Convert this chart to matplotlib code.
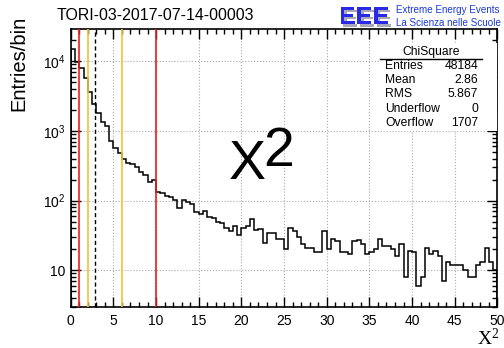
import numpy as np
import matplotlib.pyplot as plt
import matplotlib.patheffects as pe
from matplotlib.ticker import FixedLocator, LogLocator, FuncFormatter, NullFormatter
from matplotlib.patches import Rectangle

plt.rcParams['font.family'] = ['Liberation Sans', 'DejaVu Sans']

# chi-square histogram, 100 bins of width 0.5 from 0 to 50
edges = np.linspace(0, 50, 101)
counts = [
    15000, 9900, 8100, 5700, 3670, 2420, 1800, 1320, 1160, 720,
    560, 474, 389, 348, 333, 299, 259, 232, 186, 197,
    134, 127, 116, 111, 102, 77, 102, 94, 88, 69,
    65, 71, 59, 56, 50, 47, 41, 37, 43, 32,
    40, 43, 54, 38, 39, 25, 34, 34, 28, 28,
    20, 41, 37, 30, 24, 21, 21, 18, 18, 36,
    20, 28, 26, 18, 18, 17, 26, 27, 24, 17,
    18, 20, 28, 22, 22, 20, 16, 24, 8, 19,
    18, 6, 8, 21, 17, 19, 16, 7, 13, 12,
    12, 12, 10, 8, 8, 12, 13, 21, 13, 10,
]

red_lines = [1, 10]
yellow_lines = [2, 6]
mean_line = 2.86

stat_names = ["Entries", "Mean", "RMS", "Underflow", "Overflow"]
stat_values = ["48184", "2.86", "5.867", "0", "1707"]

fig = plt.figure(figsize=(5.04, 3.48), dpi=100)
ax = fig.add_axes([0.1403, 0.1187, 0.8466, 0.798])

ax.stairs(counts, edges, color='black', lw=1.1, zorder=3)

for v in red_lines:
    ax.axvline(v, color='#ee1c1c', lw=1.2, zorder=4)
for v in yellow_lines:
    ax.axvline(v, color='#f2c530', lw=1.2, zorder=4)
ax.axvline(mean_line, color='black', lw=1.0, ls=(0, (3, 2)), zorder=4)

ax.set_yscale('log')
ax.set_xlim(0, 50)
ax.set_ylim(3, 2.9e4)

ax.xaxis.set_major_locator(FixedLocator(np.arange(0, 51, 5)))
ax.xaxis.set_minor_locator(FixedLocator(np.arange(0, 51, 1)))
ax.yaxis.set_major_locator(LogLocator(base=10))
ax.yaxis.set_minor_locator(LogLocator(base=10, subs=np.arange(2, 10)))
ax.yaxis.set_minor_formatter(NullFormatter())


def ylab(v, pos):
    n = int(round(np.log10(v)))
    if n == 1:
        return '10'
    return r'$\mathregular{10^{%d}}$' % n


ax.yaxis.set_major_formatter(FuncFormatter(ylab))
ax.tick_params(which='both', direction='in', top=True, right=True, labelsize=10)
ax.tick_params(which='major', length=7, width=1)
ax.tick_params(which='minor', length=3.5, width=1)
ax.tick_params(axis='x', pad=5)
ax.grid(True, which='major', ls=':', color='#aaaaaa', lw=0.8)
for s in ax.spines.values():
    s.set_linewidth(1.2)

ax.set_ylabel('Entries/bin', fontsize=14.5)
ax.yaxis.set_label_coords(-0.10, 0.875)

# x axis title in the lower right
fig.text(0.99, 0.028, r'$\mathregular{X^2}$', fontsize=14, family='Liberation Serif',
         ha='right', va='center')

# big label in the middle
ax.text(0.37, 0.51, 'X', transform=ax.transAxes, fontsize=40, ha='left', va='center', zorder=5)
ax.text(0.452, 0.557, '2', transform=ax.transAxes, fontsize=40, ha='left', va='center', zorder=5)

# stats box
box = Rectangle((380 / 504, 1 - 131 / 348), (497 - 380) / 504, (131 - 43) / 348,
                transform=fig.transFigure, facecolor='white', edgecolor='none', zorder=6)
fig.patches.append(box)
fig.text(431 / 504, 1 - 52 / 348, 'ChiSquare', fontsize=8.7, ha='center', va='center', zorder=7)
fig.add_artist(plt.Line2D([380 / 504, 482 / 504], [1 - 58.5 / 348, 1 - 58.5 / 348],
                          transform=fig.transFigure, color='black', lw=1.0, zorder=7))
for i, (nm, val) in enumerate(zip(stat_names, stat_values)):
    yy = 1 - (66 + 14.2 * i) / 348
    fig.text(385 / 504, yy, nm, fontsize=8.7, ha='left', va='center', zorder=7)
    fig.text(478 / 504, yy, val, fontsize=8.7, ha='right', va='center', zorder=7)

# title and logo
fig.text(57 / 504, 1 - 16 / 348, 'TORI-03-2017-07-14-00003', fontsize=11.4, ha='left', va='center')
fig.text(339 / 504, 1 - 17 / 348, 'EEE', fontsize=18, weight='bold', color='#2a2ae6',
         ha='left', va='center',
         path_effects=[pe.SimplePatchShadow(offset=(2, -2), shadow_rgbFace='#a8a8b8', alpha=1),
                       pe.Normal()])
fig.text(396 / 504, 1 - 10 / 348, 'Extreme Energy Events', fontsize=7.1, color='#1a3ad8',
         ha='left', va='center')
fig.text(396 / 504, 1 - 23 / 348, 'La Scienza nelle Scuole', fontsize=7.1, color='#1a3ad8',
         ha='left', va='center')

fig.savefig('out.png', dpi=100)
